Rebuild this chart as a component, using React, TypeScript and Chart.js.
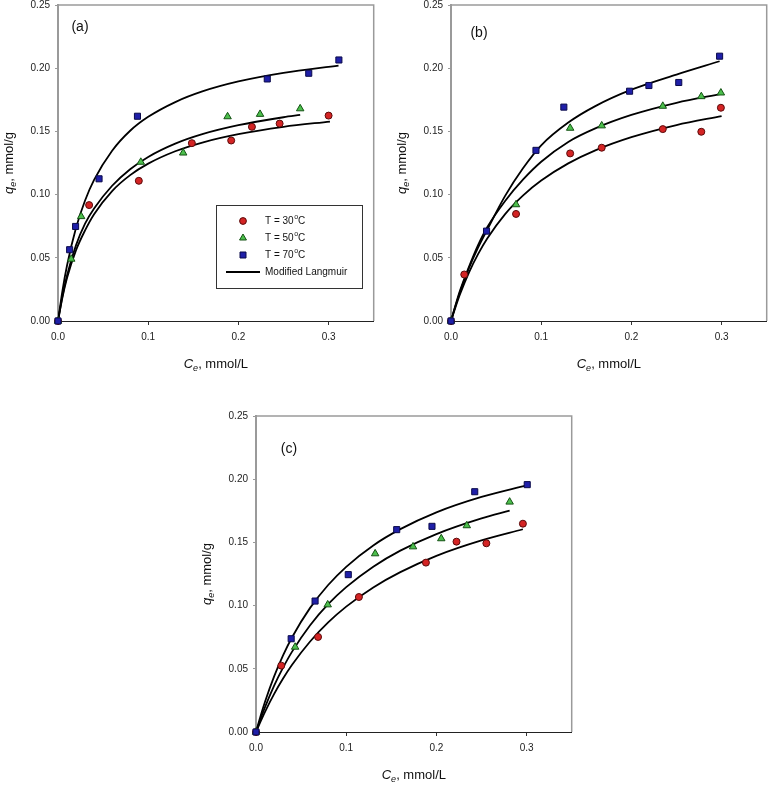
import { useEffect, useRef } from "react";
import { Chart, registerables } from "chart.js";

Chart.register(...registerables);

Chart.defaults.font.family = '"Liberation Sans", Arial, sans-serif';

const fitC = [0, 0.005, 0.01, 0.02, 0.03, 0.04, 0.06, 0.08, 0.1, 0.13, 0.16, 0.2, 0.25];

// ---- panel (a) ----
const a30X = [0, 0.0345, 0.0896, 0.1484, 0.192, 0.215, 0.2457, 0.3];
const a30Y = [0, 0.0917, 0.1109, 0.1407, 0.1428, 0.1536, 0.1562, 0.1625];
const a50X = [0, 0.0147, 0.0257, 0.0918, 0.1388, 0.188, 0.224, 0.2685];
const a50Y = [0, 0.049, 0.0827, 0.1257, 0.133, 0.1617, 0.1636, 0.168];
const a70X = [0, 0.0129, 0.0195, 0.0455, 0.0881, 0.232, 0.278, 0.3114];
const a70Y = [0, 0.0564, 0.0748, 0.1125, 0.162, 0.1915, 0.196, 0.2065];
const aFit30 = [0, 0.019, 0.034, 0.056, 0.0717, 0.0845, 0.1028, 0.1154, 0.1245, 0.1343, 0.1412, 0.1478, 0.1536];
const aFit50 = [0, 0.02, 0.036, 0.06, 0.077, 0.089, 0.107, 0.1201, 0.1298, 0.1403, 0.1478, 0.1549, 0.1612];
const aFit70 = [0, 0.0243, 0.0439, 0.0737, 0.0953, 0.1116, 0.1347, 0.1505, 0.1615, 0.1732, 0.1816, 0.1895, 0.1963];
const aFitEnd = [
  [0.3015, 0.1578],
  [0.2685, 0.163],
  [0.311, 0.202],
];

// ---- panel (b) ----
const b30X = [0, 0.0147, 0.0721, 0.1321, 0.1671, 0.2348, 0.2775, 0.2992];
const b30Y = [0, 0.0368, 0.0847, 0.1326, 0.1371, 0.1518, 0.1497, 0.1687];
const b50X = [0, 0.0721, 0.1321, 0.1671, 0.2348, 0.2775, 0.2992];
const b50Y = [0, 0.0921, 0.1526, 0.1545, 0.17, 0.1776, 0.1805];
const b70X = [0, 0.0394, 0.0942, 0.1251, 0.198, 0.2194, 0.2525, 0.2978];
const b70Y = [0, 0.0711, 0.135, 0.1692, 0.1818, 0.1863, 0.1887, 0.2095];
const bFit30 = [0, 0.011, 0.0212, 0.0385, 0.0529, 0.0651, 0.0846, 0.0994, 0.1111, 0.1247, 0.135, 0.1454, 0.155];
const bFit50 = [0, 0.0125, 0.024, 0.043, 0.06, 0.074, 0.095, 0.112, 0.126, 0.1417, 0.1524, 0.163, 0.1726];
const bFit70 = [0, 0.012, 0.023, 0.042, 0.058, 0.072, 0.099, 0.121, 0.139, 0.157, 0.17, 0.183, 0.195];
const bFitEnd = [
  [0.3, 0.1621],
  [0.3, 0.1797],
  [0.2978, 0.2055],
];

// ---- panel (c) ----
const c30X = [0, 0.028, 0.0688, 0.1141, 0.1884, 0.2223, 0.2554, 0.2959];
const c30Y = [0, 0.0525, 0.0752, 0.1068, 0.134, 0.1506, 0.1493, 0.1648];
const c50X = [0, 0.0434, 0.0795, 0.1321, 0.1741, 0.2054, 0.2337, 0.2812];
const c50Y = [0, 0.0672, 0.1007, 0.1411, 0.1466, 0.153, 0.1633, 0.182];
const c70X = [0, 0.039, 0.0655, 0.1023, 0.156, 0.1951, 0.2425, 0.3007];
const c70Y = [0, 0.0738, 0.1036, 0.1245, 0.1601, 0.1627, 0.1901, 0.1957];
const cFit30 = [0, 0.0082, 0.016, 0.03, 0.0423, 0.0532, 0.0716, 0.0867, 0.0992, 0.1144, 0.1265, 0.1394, 0.1516];
const cFit50 = [0, 0.0103, 0.0197, 0.0365, 0.0509, 0.0636, 0.0845, 0.1011, 0.1146, 0.1308, 0.1435, 0.1566, 0.169];
const cFit70 = [0, 0.0125, 0.0239, 0.0438, 0.0606, 0.075, 0.0982, 0.1163, 0.1307, 0.1476, 0.1605, 0.1738, 0.186];
const cFitEnd = [
  [0.2959, 0.1604],
  [0.2812, 0.1751],
  [0.3, 0.1952],
];

const legendLabels = ["T = 30", "T = 50", "T = 70", "Modified Langmuir"];

const RED = "#d42424";
const RED_EDGE = "#5a0a0a";
const GREEN = "#4cbf4c";
const GREEN_EDGE = "#145214";
const BLUE = "#1f1fa8";
const BLUE_EDGE = "#0a0a4a";

const FONT = '"Liberation Sans", Arial, sans-serif';
const PLOT_W = 317;
const PLOT_H = 316;

type XY = { x: number; y: number };

const pts = (xs: number[], ys: number[]): XY[] => xs.map((x, i) => ({ x, y: ys[i] }));
const fitPts = (ys: number[], end: number[]): XY[] => [
  ...fitC.map((x, i) => ({ x, y: ys[i] })),
  { x: end[0], y: end[1] },
];

interface Series {
  p30: XY[];
  p50: XY[];
  p70: XY[];
  f30: XY[];
  f50: XY[];
  f70: XY[];
}

// italic letter + subscript + plain rest, centred at (cx, cy)
function drawTitle(ctx: CanvasRenderingContext2D, main: string, sub: string, rest: string, cx: number, cy: number) {
  const fMain = `italic 13px ${FONT}`;
  const fSub = `italic 9px ${FONT}`;
  const fRest = `13px ${FONT}`;
  ctx.font = fMain;
  const w1 = ctx.measureText(main).width;
  ctx.font = fSub;
  const w2 = ctx.measureText(sub).width;
  ctx.font = fRest;
  const w3 = ctx.measureText(rest).width;
  let x = cx - (w1 + w2 + w3) / 2;
  ctx.textAlign = "left";
  ctx.textBaseline = "middle";
  ctx.font = fMain;
  ctx.fillText(main, x, cy);
  x += w1;
  ctx.font = fSub;
  ctx.fillText(sub, x, cy + 4);
  x += w2;
  ctx.font = fRest;
  ctx.fillText(rest, x, cy);
}

function drawCircle(ctx: CanvasRenderingContext2D, x: number, y: number) {
  ctx.beginPath();
  ctx.arc(x, y, 3.4, 0, Math.PI * 2);
  ctx.fillStyle = RED;
  ctx.fill();
  ctx.strokeStyle = RED_EDGE;
  ctx.lineWidth = 1;
  ctx.stroke();
}

function drawTriangle(ctx: CanvasRenderingContext2D, x: number, y: number) {
  const r = 4;
  ctx.beginPath();
  ctx.moveTo(x, y - r);
  ctx.lineTo(x + r * 0.866, y + r * 0.5);
  ctx.lineTo(x - r * 0.866, y + r * 0.5);
  ctx.closePath();
  ctx.fillStyle = GREEN;
  ctx.fill();
  ctx.strokeStyle = GREEN_EDGE;
  ctx.lineWidth = 1;
  ctx.stroke();
}

function drawSquare(ctx: CanvasRenderingContext2D, x: number, y: number) {
  ctx.beginPath();
  ctx.rect(x - 3, y - 3, 6, 6);
  ctx.fillStyle = BLUE;
  ctx.fill();
  ctx.strokeStyle = BLUE_EDGE;
  ctx.lineWidth = 1;
  ctx.stroke();
}

interface PanelProps {
  tag: string;
  tagOffset: number;
  left: number;
  top: number;
  series: Series;
  legend?: boolean;
}

function Panel({ tag, tagOffset, left, top, series, legend }: PanelProps) {
  const chartRef = useRef<HTMLCanvasElement>(null);

  useEffect(() => {
    if (!chartRef.current) return;

    const deco = {
      id: "deco",
      afterDraw(chart: Chart) {
        const { ctx, chartArea: a } = chart;
        ctx.save();

        // grey frame top and right
        ctx.strokeStyle = "#9a9a9a";
        ctx.lineWidth = 1.5;
        ctx.beginPath();
        ctx.moveTo(a.left, a.top);
        ctx.lineTo(a.right, a.top);
        ctx.lineTo(a.right, a.bottom);
        ctx.stroke();

        // panel tag
        ctx.fillStyle = "#111";
        ctx.font = `14px ${FONT}`;
        ctx.textAlign = "center";
        ctx.textBaseline = "middle";
        ctx.fillText(tag, a.left + tagOffset, a.top + tagOffset);

        // axis titles
        drawTitle(ctx, "C", "e", ", mmol/L", (a.left + a.right) / 2, a.bottom + 43);
        ctx.save();
        ctx.translate(a.left - 49, (a.top + a.bottom) / 2);
        ctx.rotate(-Math.PI / 2);
        drawTitle(ctx, "q", "e", ", mmol/g", 0, 0);
        ctx.restore();

        if (legend) {
          const bx = a.left + 158;
          const by = a.top + 200;
          ctx.strokeStyle = "#333";
          ctx.lineWidth = 1;
          ctx.strokeRect(bx + 0.5, by + 0.5, 146, 83);
          const mx = bx + 27;
          const tx = bx + 49;
          const rows = [by + 16, by + 33, by + 50, by + 67];
          drawCircle(ctx, mx, rows[0]);
          drawTriangle(ctx, mx, rows[1]);
          drawSquare(ctx, mx, rows[2]);
          ctx.strokeStyle = "#000";
          ctx.lineWidth = 1.8;
          ctx.beginPath();
          ctx.moveTo(bx + 10, rows[3]);
          ctx.lineTo(bx + 44, rows[3]);
          ctx.stroke();

          ctx.fillStyle = "#111";
          ctx.textAlign = "left";
          ctx.textBaseline = "middle";
          for (let i = 0; i < 3; i++) {
            ctx.font = `10px ${FONT}`;
            const t = legendLabels[i];
            ctx.fillText(t, tx, rows[i]);
            let x = tx + ctx.measureText(t).width;
            ctx.font = `7px ${FONT}`;
            ctx.fillText("o", x + 0.5, rows[i] - 4);
            x += ctx.measureText("o").width + 0.5;
            ctx.font = `10px ${FONT}`;
            ctx.fillText("C", x, rows[i]);
          }
          ctx.fillText(legendLabels[3], tx, rows[3]);
        }
        ctx.restore();
      },
    };

    // lower order is painted later, i.e. on top
    const pointSet = (data: XY[], style: string, radius: number, bg: string, edge: string, order: number) => ({
      data,
      pointStyle: style,
      pointRadius: radius,
      pointHoverRadius: radius,
      backgroundColor: bg,
      borderColor: edge,
      borderWidth: 1,
      showLine: false,
      clip: false,
      order,
    });
    const fitSet = (data: XY[]) => ({
      data,
      showLine: true,
      borderColor: "#000",
      borderWidth: 1.8,
      pointRadius: 0,
      pointHoverRadius: 0,
      fill: false,
      cubicInterpolationMode: "monotone" as const,
      order: 5,
    });

    const chart = new Chart(chartRef.current, {
      type: "scatter",
      data: {
        datasets: [
          pointSet(series.p30, "circle", 3.5, RED, RED_EDGE, 2),
          pointSet(series.p50, "triangle", 4.3, GREEN, GREEN_EDGE, 1),
          pointSet(series.p70, "rect", 4.3, BLUE, BLUE_EDGE, 0),
          fitSet(series.f30),
          fitSet(series.f50),
          fitSet(series.f70),
        ] as any,
      },
      options: {
        animation: false,
        responsive: true,
        maintainAspectRatio: false,
        events: [],
        layout: { padding: { left: 0, top: 15, right: 4, bottom: 0 } },
        scales: {
          x: {
            type: "linear",
            min: 0,
            max: 0.35,
            border: { display: true, color: "#222", width: 1 },
            grid: { display: true, drawOnChartArea: false, drawTicks: true, tickLength: 4, color: "#333" },
            ticks: {
              stepSize: 0.1,
              includeBounds: false,
              padding: 6,
              color: "#222",
              font: { size: 10 },
              callback: (v) => Number(v).toFixed(1),
            },
            afterFit: (s) => {
              s.height = 60;
            },
          },
          y: {
            type: "linear",
            min: 0,
            max: 0.25,
            border: { display: true, color: "#9a9a9a", width: 2 },
            grid: { display: true, drawOnChartArea: false, drawTicks: true, tickLength: 3, color: "#9a9a9a" },
            ticks: {
              stepSize: 0.05,
              padding: 5,
              color: "#222",
              font: { size: 10 },
              callback: (v) => Number(v).toFixed(2),
            },
            afterFit: (s) => {
              s.width = 58;
            },
          },
        },
        plugins: {
          legend: { display: false },
          tooltip: { enabled: false },
        },
      },
      plugins: [deco],
    });

    return () => {
      chart.destroy();
    };
  }, [tag, tagOffset, series, legend]);

  return (
    <div
      style={{
        position: "absolute",
        left: left - 58,
        top: top - 15,
        width: 58 + PLOT_W + 4,
        height: 15 + PLOT_H + 60,
      }}
    >
      <canvas ref={chartRef} />
    </div>
  );
}

const seriesA: Series = {
  p30: pts(a30X, a30Y),
  p50: pts(a50X, a50Y),
  p70: pts(a70X, a70Y),
  f30: fitPts(aFit30, aFitEnd[0]),
  f50: fitPts(aFit50, aFitEnd[1]),
  f70: fitPts(aFit70, aFitEnd[2]),
};
const seriesB: Series = {
  p30: pts(b30X, b30Y),
  p50: pts(b50X, b50Y),
  p70: pts(b70X, b70Y),
  f30: fitPts(bFit30, bFitEnd[0]),
  f50: fitPts(bFit50, bFitEnd[1]),
  f70: fitPts(bFit70, bFitEnd[2]),
};
const seriesC: Series = {
  p30: pts(c30X, c30Y),
  p50: pts(c50X, c50Y),
  p70: pts(c70X, c70Y),
  f30: fitPts(cFit30, cFitEnd[0]),
  f50: fitPts(cFit50, cFitEnd[1]),
  f70: fitPts(cFit70, cFitEnd[2]),
};

export default function App() {
  return (
    <div
      style={{
        position: "fixed",
        left: 0,
        top: 0,
        width: 768,
        height: 786,
        overflow: "hidden",
        background: "#fff",
      }}
    >
      <Panel tag="(a)" tagOffset={22} left={58} top={5} series={seriesA} legend />
      <Panel tag="(b)" tagOffset={28} left={451} top={5} series={seriesB} />
      <Panel tag="(c)" tagOffset={33} left={256} top={416} series={seriesC} />
    </div>
  );
}
